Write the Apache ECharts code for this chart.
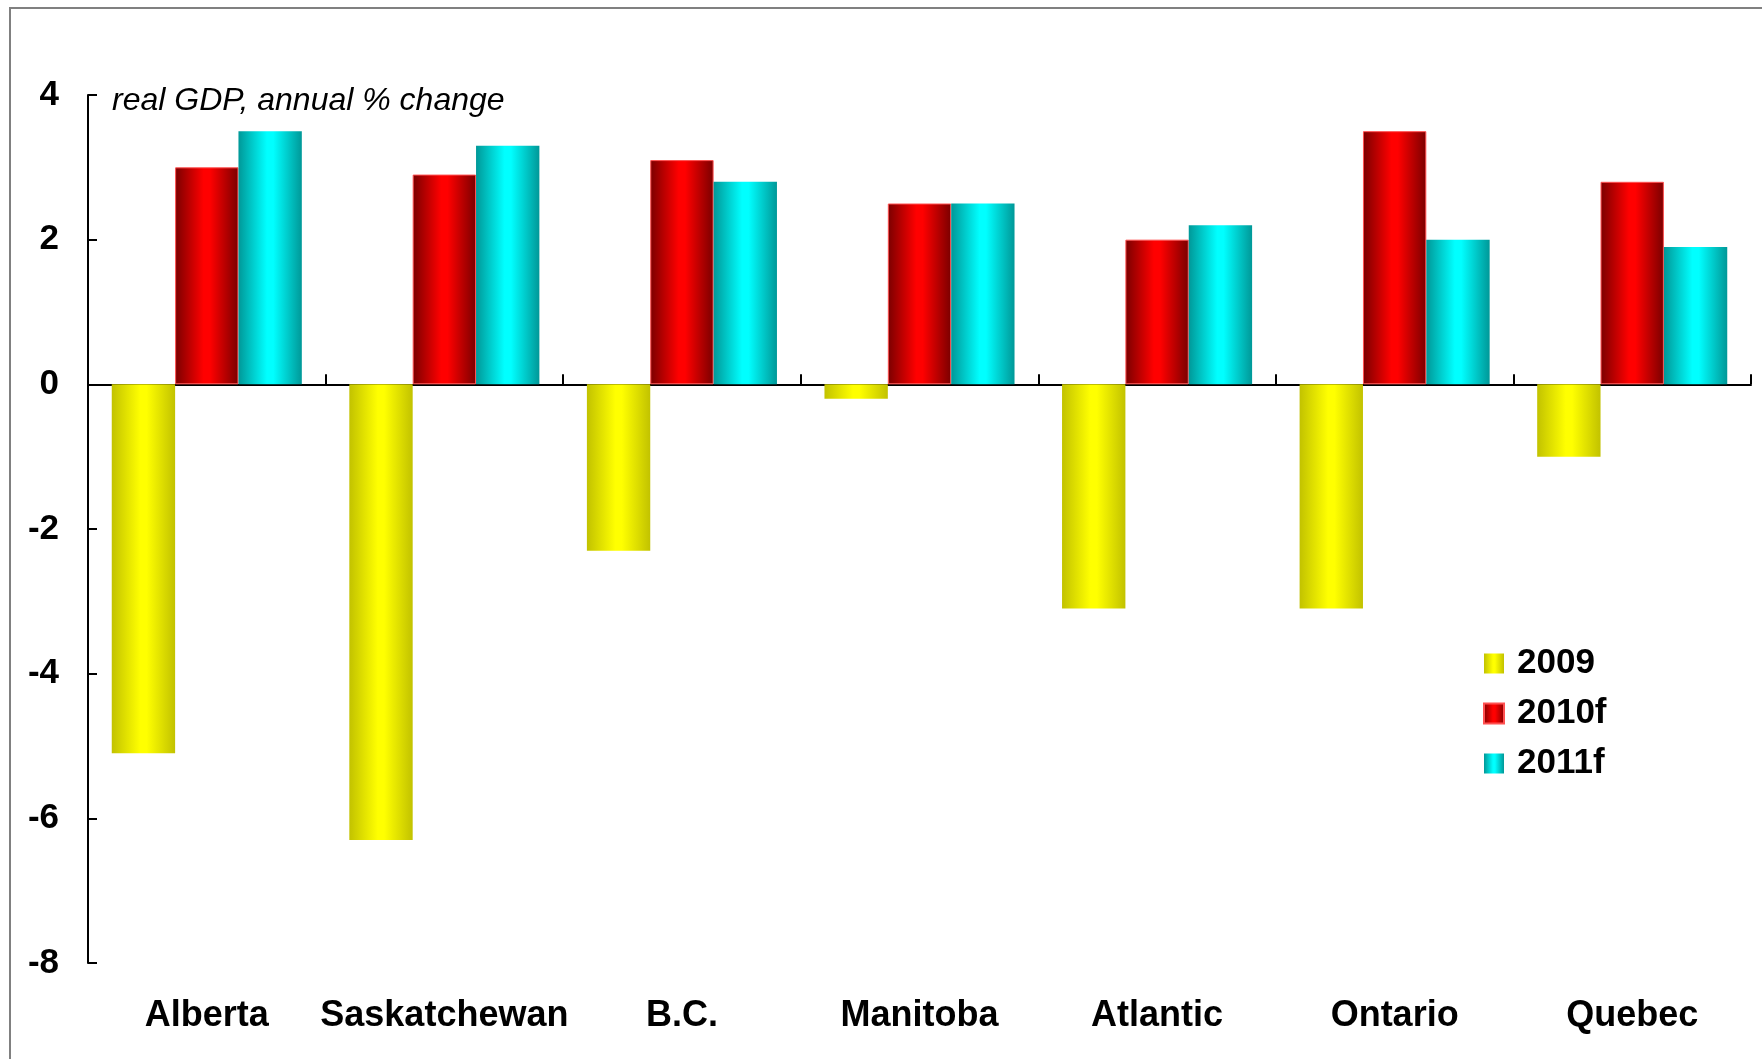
<!DOCTYPE html>
<html>
<head>
<meta charset="utf-8">
<script src="https://cdn.jsdelivr.net/npm/echarts@6/dist/echarts.min.js"></script>
<style>
html,body{margin:0;padding:0;background:#fff;}
#chart{width:1762px;height:1059px;}
</style>
</head>
<body>
<div id="chart"></div>
<script>
var categories = ['Alberta', 'Saskatchewan', 'B.C.', 'Manitoba', 'Atlantic', 'Ontario', 'Quebec'];
var values2009 = [-5.1, -6.3, -2.3, -0.2, -3.1, -3.1, -1.0];
var values2010f = [3.0, 2.9, 3.1, 2.5, 2.0, 3.5, 2.8];
var values2011f = [3.5, 3.3, 2.8, 2.5, 2.2, 2.0, 1.9];
var seriesNames = ['2009', '2010f', '2011f'];
var yTicks = {min: -8, max: 4, interval: 2};
var subtitle = 'real GDP, annual % change';

var FONT = '"Liberation Sans", Arial, sans-serif';

function grad(edge, mid) {
  return {
    type: 'linear', x: 0, y: 0, x2: 1, y2: 0,
    colorStops: [
      {offset: 0, color: edge},
      {offset: 0.45, color: mid},
      {offset: 0.55, color: mid},
      {offset: 1, color: edge}
    ]
  };
}

var chart = echarts.init(document.getElementById('chart'), null, {renderer: 'canvas'});
chart.setOption({
  backgroundColor: '#ffffff',
  animation: false,
  grid: {left: 88, right: 11, top: 95, bottom: 96, containLabel: false},
  graphic: [
    {
      type: 'rect', silent: true,
      shape: {x: 10, y: 8, width: 1800, height: 1100},
      style: {fill: 'none', stroke: '#808080', lineWidth: 2}
    },
    {
      type: 'text', left: 112, top: 85, silent: true,
      style: {text: subtitle, font: 'italic 32px ' + FONT, fill: '#000'}
    }
  ],
  legend: {
    orient: 'vertical',
    left: 1478,
    top: 641,
    itemWidth: 20,
    itemHeight: 20,
    itemGap: 15,
    icon: 'rect',
    data: seriesNames,
    textStyle: {fontFamily: FONT, fontSize: 35, fontWeight: 'bold', color: '#000', padding: [0, 0, 0, 8]}
  },
  xAxis: [
    {
      type: 'category',
      data: categories,
      boundaryGap: true,
      axisLine: {onZero: true, lineStyle: {color: '#000', width: 2}},
      axisTick: {show: true, inside: true, length: 10, lineStyle: {color: '#000', width: 2}},
      axisLabel: {show: false},
      splitLine: {show: false}
    },
    {
      type: 'category',
      data: categories,
      position: 'bottom',
      axisLine: {show: false},
      axisTick: {show: false},
      axisLabel: {show: true, interval: 0, margin: 35, fontFamily: FONT, fontSize: 36, fontWeight: 'bold', color: '#000'},
      splitLine: {show: false}
    }
  ],
  yAxis: {
    type: 'value',
    min: yTicks.min,
    max: yTicks.max,
    interval: yTicks.interval,
    axisLine: {show: true, lineStyle: {color: '#000', width: 2}},
    axisTick: {show: true, inside: true, length: 9, lineStyle: {color: '#000', width: 2}},
    axisLabel: {margin: 29, fontFamily: FONT, fontSize: 35, fontWeight: 'bold', color: '#000', padding: [4, 0, 0, 0]},
    splitLine: {show: false}
  },
  series: [
    {
      name: seriesNames[0], type: 'bar', data: values2009,
      barGap: '0%', barCategoryGap: '20%',
      itemStyle: {color: grad('#c2c200', '#ffff00')}
    },
    {
      name: seriesNames[1], type: 'bar', data: values2010f,
      barGap: '0%', barCategoryGap: '20%',
      itemStyle: {color: grad('#7a0000', '#ff0000'), borderColor: '#ff5050', borderWidth: 1}
    },
    {
      name: seriesNames[2], type: 'bar', data: values2011f,
      barGap: '0%', barCategoryGap: '20%',
      itemStyle: {color: grad('#009898', '#00ffff')}
    }
  ]
});
</script>
</body>
</html>
